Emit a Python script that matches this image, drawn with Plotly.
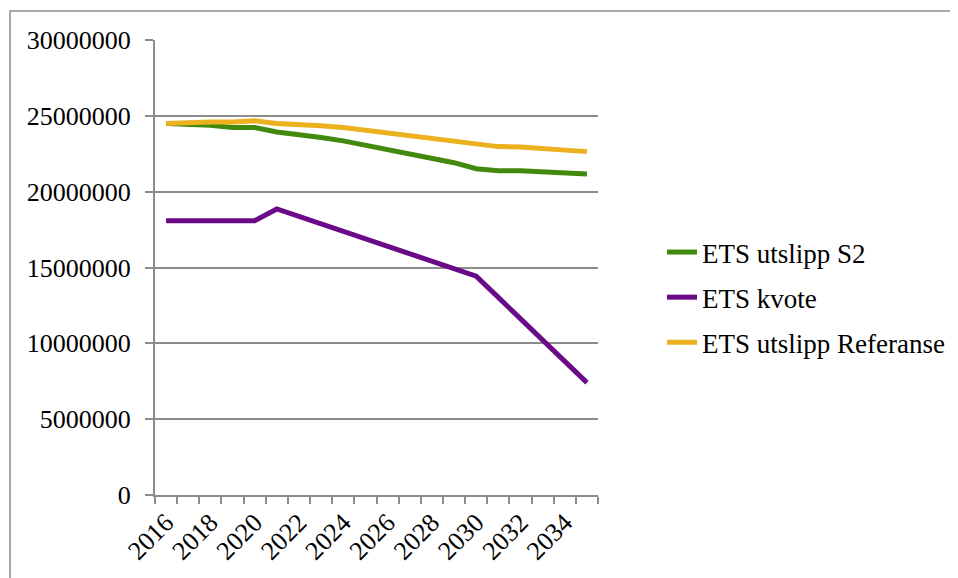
import plotly.graph_objects as go

years = list(range(2016, 2036))
ets_s2 = [24490000, 24450000, 24380000, 24230000, 24230000, 23940000, 23790000, 23570000,
          23350000, 23060000, 22750000, 22530000, 22220000, 21910000, 21510000, 21380000,
          21380000, 21300000, 21250000, 21160000]
ets_kvote = [18090000, 18090000, 18090000, 18090000, 18090000, 18860000, 18370000, 17880000,
             17380000, 16890000, 16400000, 15910000, 15420000, 14920000, 14430000, 13030000,
             11620000, 10220000, 8810000, 7410000]
ets_ref = [24490000, 24560000, 24600000, 24600000, 24670000, 24490000, 24450000, 24340000,
           24230000, 24050000, 23880000, 23750000, 23570000, 23350000, 23130000, 22970000,
           22950000, 22840000, 22750000, 22640000]
series_names = ["ETS utslipp S2", "ETS kvote", "ETS utslipp Referanse"]
series_colors = ["#418A0E", "#6A0A88", "#ECB11F"]
x_tick_years = years[::2]
y_ticks = [0, 5000000, 10000000, 15000000, 20000000, 25000000, 30000000]

FONT = "Liberation Serif, Times New Roman, serif"
GRAY = "#8C8C8C"

fig = go.Figure()
for i, (name, vals, col) in enumerate(zip(series_names, [ets_s2, ets_kvote, ets_ref], series_colors)):
    fig.add_trace(go.Scatter(x=years, y=vals, name=name, mode="lines", legendgroup=f"g{i}",
                             line=dict(color=col, width=5)))

OFF = 8  # page body margin
PL, PR, PT, PB = 155, 598, 40, 495  # plot area in page pixels
W, H = 958, 578
L = PL - OFF
T = PT - OFF
pw = PR - PL
ph = PB - PT
R = W - L - pw
B = H - T - ph

def px_x(p):
    return (p - PL) / pw

def px_y(p):
    return (PB - p) / ph

fig.update_layout(
    width=W, height=H,
    margin=dict(l=L, r=R, t=T, b=B),
    paper_bgcolor="white", plot_bgcolor="white",
    font=dict(family=FONT, size=26, color="black"),
    showlegend=True,
    legend=dict(x=px_x(662), y=px_y(228), xanchor="left", yanchor="top",
                font=dict(family=FONT, size=27, color="black"),
                traceorder="grouped", tracegroupgap=7, itemwidth=30,
                bgcolor="rgba(0,0,0,0)"),
    xaxis=dict(range=[2015.5, 2035.5], tickmode="array", tickvals=x_tick_years,
               ticktext=[str(y) for y in x_tick_years], tickangle=-45, ticks="",
               showline=True, linecolor=GRAY, linewidth=2, showgrid=False, zeroline=False,
               tickfont=dict(family=FONT, size=26, color="black"),
               minor=dict(tick0=2015.5, dtick=1, ticks="outside", ticklen=7,
                          tickcolor=GRAY, tickwidth=2, showgrid=False)),
    yaxis=dict(range=[0, 30000000], tickmode="array", tickvals=y_ticks,
               ticktext=[str(v) for v in y_ticks], ticks="outside", ticklen=8,
               tickcolor=GRAY, tickwidth=2, showline=True, linecolor=GRAY, linewidth=2,
               showgrid=True, gridcolor=GRAY, gridwidth=1.5, zeroline=False,
               ticklabelstandoff=9,
               tickfont=dict(family=FONT, size=26, color="black")),
)

fig.add_shape(type="path", xref="paper", yref="paper",
              path=f"M {px_x(10)},{px_y(600)} L {px_x(10)},{px_y(11)} L {px_x(980)},{px_y(11)}",
              line=dict(color=GRAY, width=1.5))

fig.write_html("out.html")
